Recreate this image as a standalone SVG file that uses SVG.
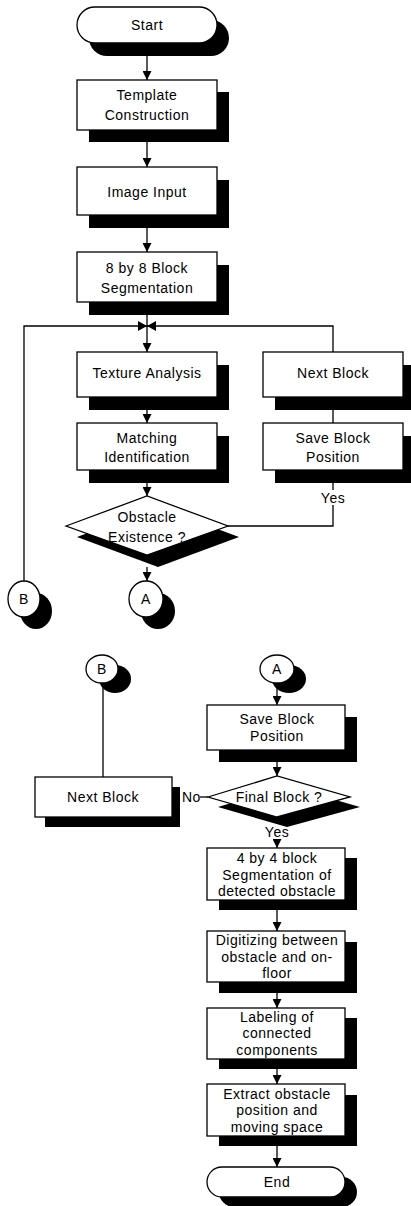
<svg xmlns="http://www.w3.org/2000/svg" width="411" height="1206" viewBox="0 0 411 1206">
<style>
.sh{fill:#000}
.bx{fill:#fff;stroke:#000;stroke-width:1.3}
.ln{fill:none;stroke:#000;stroke-width:1.3}
text{font-family:"Liberation Sans",Arial,sans-serif;font-size:14px;letter-spacing:0.5px;text-anchor:middle;fill:#000}
</style>
<defs>
<marker id="ar" viewBox="0 0 10 10" refX="10" refY="5" markerWidth="9" markerHeight="9" markerUnits="userSpaceOnUse" orient="auto">
<path d="M0,0 L10,5 L0,10 z" fill="#000"/>
</marker>
</defs>
<rect width="411" height="1206" fill="#fff"/>

<g id="connectors">
<line class="ln" x1="147" y1="56" x2="147" y2="80" marker-end="url(#ar)"/>
<line class="ln" x1="147" y1="142" x2="147" y2="167" marker-end="url(#ar)"/>
<line class="ln" x1="147" y1="228" x2="147" y2="252" marker-end="url(#ar)"/>
<line class="ln" x1="147" y1="315" x2="147" y2="352" marker-end="url(#ar)"/>
<polyline class="ln" points="24,581 24,326 147,326"/>
<polyline class="ln" points="147,326 333,326 333,352"/>
<path d="M138,321 L147,326 L138,331 z M156,321 L147,326 L156,331 z" fill="#000"/>
<line class="ln" x1="333" y1="397" x2="333" y2="423"/>
<line class="ln" x1="147" y1="410" x2="147" y2="423" marker-end="url(#ar)"/>
<line class="ln" x1="147" y1="483" x2="147" y2="496" marker-end="url(#ar)"/>
<line class="ln" x1="333" y1="483" x2="333" y2="490"/>
<polyline class="ln" points="333,505 333,526 228,526"/>
<line class="ln" x1="147" y1="567" x2="147" y2="581" marker-end="url(#ar)"/>
<line class="ln" x1="103" y1="683" x2="103" y2="777"/>
<line class="ln" x1="277" y1="683" x2="277" y2="705" marker-end="url(#ar)"/>
<line class="ln" x1="277" y1="762" x2="277" y2="776" marker-end="url(#ar)"/>
<line class="ln" x1="200" y1="797" x2="208" y2="797"/>
<line class="ln" x1="277" y1="839" x2="277" y2="848" marker-end="url(#ar)"/>
<line class="ln" x1="277" y1="910" x2="277" y2="931" marker-end="url(#ar)"/>
<line class="ln" x1="277" y1="993" x2="277" y2="1008" marker-end="url(#ar)"/>
<line class="ln" x1="277" y1="1069" x2="277" y2="1084" marker-end="url(#ar)"/>
<line class="ln" x1="277" y1="1146" x2="277" y2="1167" marker-end="url(#ar)"/>
</g>

<g id="start">
<rect class="sh" x="89" y="20" width="140" height="36" rx="18"/>
<rect class="bx" x="77" y="7" width="140" height="36" rx="18"/>
<text x="147" y="30">Start</text>
</g>
<g id="template">
<rect class="sh" x="89" y="92" width="140" height="50"/>
<rect class="bx" x="77" y="80" width="140" height="50"/>
<text x="147" y="100">Template</text>
<text x="147" y="120">Construction</text>
</g>
<g id="image-input">
<rect class="sh" x="89" y="180" width="140" height="48"/>
<rect class="bx" x="77" y="167" width="140" height="48"/>
<text x="147" y="197">Image Input</text>
</g>
<g id="seg8">
<rect class="sh" x="89" y="265" width="140" height="50"/>
<rect class="bx" x="77" y="252" width="140" height="50"/>
<text x="147" y="273">8 by 8 Block</text>
<text x="147" y="293">Segmentation</text>
</g>
<g id="texture">
<rect class="sh" x="89" y="365" width="140" height="45"/>
<rect class="bx" x="77" y="352" width="140" height="45"/>
<text x="147" y="378">Texture Analysis</text>
</g>
<g id="next-block-top">
<rect class="sh" x="275" y="365" width="140" height="45"/>
<rect class="bx" x="263" y="352" width="140" height="45"/>
<text x="333" y="378">Next Block</text>
</g>
<g id="matching">
<rect class="sh" x="89" y="436" width="140" height="47"/>
<rect class="bx" x="77" y="423" width="140" height="47"/>
<text x="147" y="443">Matching</text>
<text x="147" y="462">Identification</text>
</g>
<g id="save-top">
<rect class="sh" x="275" y="436" width="140" height="47"/>
<rect class="bx" x="263" y="423" width="140" height="47"/>
<text x="333" y="443">Save Block</text>
<text x="333" y="462">Position</text>
</g>
<g id="obstacle">
<polygon class="sh" points="77,537 158,507 239,537 158,567"/>
<polygon class="bx" points="66,526 147,496 228,526 147,555"/>
<text x="147" y="522">Obstacle</text>
<text x="147" y="542">Existence ?</text>
<text x="333" y="503">Yes</text>
</g>
<g id="conn-b-top">
<ellipse class="sh" cx="36" cy="611" rx="16" ry="18"/>
<ellipse class="bx" cx="24" cy="599" rx="16" ry="18"/>
<text x="24" y="604">B</text>
</g>
<g id="conn-a-top">
<ellipse class="sh" cx="158" cy="611" rx="17" ry="18"/>
<ellipse class="bx" cx="146" cy="599" rx="17" ry="18"/>
<text x="146" y="604">A</text>
</g>

<g id="conn-b-bottom">
<ellipse class="sh" cx="115" cy="679" rx="16" ry="14"/>
<ellipse class="bx" cx="102" cy="669" rx="16" ry="14"/>
<text x="102" y="674">B</text>
</g>
<g id="conn-a-bottom">
<ellipse class="sh" cx="289" cy="679" rx="17" ry="14"/>
<ellipse class="bx" cx="277" cy="669" rx="17" ry="14"/>
<text x="277" y="674">A</text>
</g>
<g id="save-bottom">
<rect class="sh" x="219" y="717" width="138" height="45"/>
<rect class="bx" x="207" y="705" width="138" height="45"/>
<text x="277" y="724">Save Block</text>
<text x="277" y="741">Position</text>
</g>
<g id="final">
<polygon class="sh" points="218,807 287,786 360,807 287,827"/>
<polygon class="bx" points="208,797 277,776 350,797 277,817"/>
<text x="279" y="802">Final Block ?</text>
<text x="182" y="802" style="text-anchor:start">No</text>
<text x="277" y="837">Yes</text>
</g>
<g id="next-block-bottom">
<rect class="sh" x="45" y="787" width="135" height="40"/>
<rect class="bx" x="35" y="777" width="137" height="40"/>
<text x="103" y="802">Next Block</text>
</g>
<g id="seg4">
<rect class="sh" x="219" y="858" width="138" height="52"/>
<rect class="bx" x="207" y="848" width="138" height="52"/>
<text x="277" y="863">4 by 4 block</text>
<text x="277" y="880">Segmentation of</text>
<text x="277" y="896">detected obstacle</text>
</g>
<g id="digitizing">
<rect class="sh" x="219" y="942" width="138" height="51"/>
<rect class="bx" x="207" y="931" width="138" height="51"/>
<text x="277" y="945">Digitizing between</text>
<text x="277" y="962">obstacle and on-</text>
<text x="277" y="978">floor</text>
</g>
<g id="labeling">
<rect class="sh" x="219" y="1018" width="138" height="51"/>
<rect class="bx" x="207" y="1008" width="138" height="51"/>
<text x="277" y="1022">Labeling of</text>
<text x="277" y="1038">connected</text>
<text x="277" y="1055">components</text>
</g>
<g id="extract">
<rect class="sh" x="219" y="1095" width="138" height="51"/>
<rect class="bx" x="207" y="1084" width="138" height="52"/>
<text x="277" y="1099">Extract obstacle</text>
<text x="277" y="1115">position and</text>
<text x="277" y="1132">moving space</text>
</g>
<g id="end">
<rect class="sh" x="219" y="1177" width="138" height="30" rx="15"/>
<rect class="bx" x="207" y="1167" width="138" height="30" rx="15"/>
<text x="277" y="1187">End</text>
</g>
</svg>
